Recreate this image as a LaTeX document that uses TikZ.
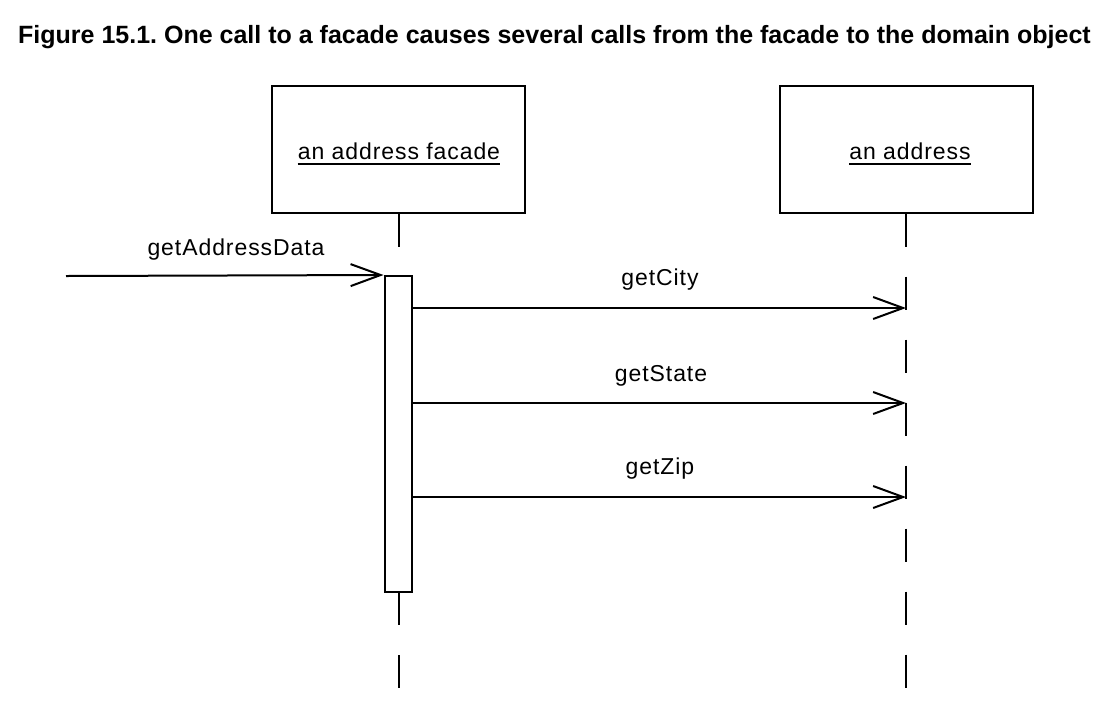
\documentclass[tikz,border=0pt]{standalone}
\usepackage{fontspec}
\setmainfont{Liberation Sans}
\newfontfamily\labfont[LetterSpace=4]{Liberation Sans}
\usetikzlibrary{arrows.meta}
\frenchspacing
\begin{document}
\begin{tikzpicture}[x=1pt,y=-1pt,
  objbox/.style={draw, line width=2pt, minimum width=253pt, minimum height=127pt, inner sep=0pt},
  actbox/.style={draw, fill=white, line width=2pt, minimum width=27pt, minimum height=316pt, inner sep=0pt},
  lbl/.style={font=\labfont\fontsize{23}{27}\selectfont, inner sep=0pt, anchor=base},
  titlefont/.style={font=\bfseries\fontsize{25}{30}\selectfont, inner sep=0pt, anchor=base west},
  lifeline/.style={line width=2pt, dash pattern=on 33pt off 30pt},
  uline/.style={line width=2pt},
  msg/.style={line width=2pt, -{Straight Barb[length=30pt,width=22pt]}}]
\useasboundingbox (0,0) rectangle (1107,713);
\fill[white] (0,0) rectangle (1107,713);

\node[titlefont] (title) at (18,43) {Figure 15.1. One call to a facade causes several calls from the facade to the domain object};

% objects
\node[objbox] (fac) at (398.5,149.5) {};
\node[objbox] (adr) at (906,149) {};
\node[lbl] (facT) at (399,159) {an address facade};
\node[lbl] (adrT) at (910,159) {an address};
\draw[uline] ([yshift=-5pt]facT.base west) -- ([yshift=-5pt]facT.base east);
\draw[uline] ([yshift=-5pt]adrT.base west) -- ([yshift=-5pt]adrT.base east);

% lifelines
\coordinate (facEnd) at (398.5,689);
\coordinate (adrEnd) at (906,689);
\draw[lifeline] (fac.south) -- (facEnd);
\draw[lifeline] (adr.south) -- (adrEnd);

% activation
\node[actbox] (act) at (398,434) {};

% messages
\coordinate (in) at (66,276);
\coordinate (cityT) at (906,308);
\coordinate (stateT) at (906,403);
\coordinate (zipT) at (906,497);
\draw[msg] (in) -- (act.north west);
\draw[msg] (act.east |- cityT) -- (cityT);
\draw[msg] (act.east |- stateT) -- (stateT);
\draw[msg] (act.east |- zipT) -- (zipT);

\node[lbl] (addrL) at (236,255) {getAddressData};
\node[lbl] (cityL) at (660,285) {getCity};
\node[lbl] (stateL) at (661,381) {getState};
\node[lbl] (zipL) at (660,474) {getZip};
\end{tikzpicture}
\end{document}
